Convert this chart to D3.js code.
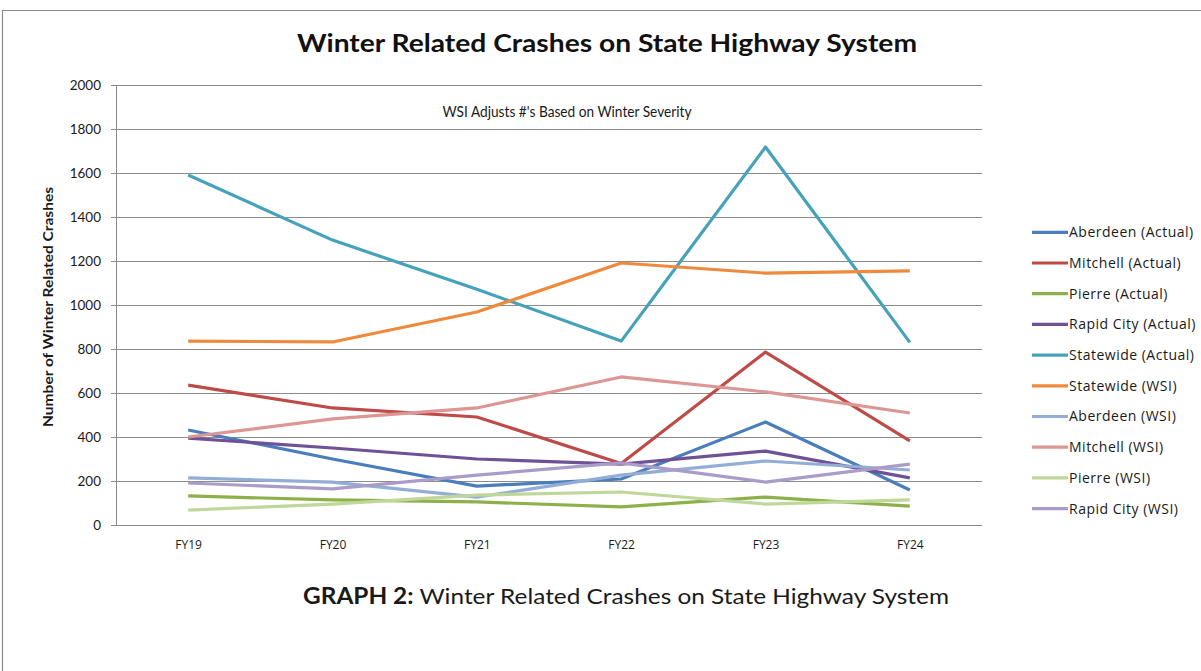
<!DOCTYPE html>
<html>
<head>
<meta charset="utf-8">
<script src="https://cdn.jsdelivr.net/npm/d3@7"></script>
<style>
  html, body { margin: 0; padding: 0; background: #fff; }
  svg { display: block; font-family: Lato, "Open Sans", sans-serif; }
</style>
</head>
<body>
<svg id="ctner"></svg>
<script>
// data
const years = ["FY19", "FY20", "FY21", "FY22", "FY23", "FY24"];
const yTicks = [0, 200, 400, 600, 800, 1000, 1200, 1400, 1600, 1800, 2000];

const aberdeenActual = [432, 300, 177, 209, 468, 159];
const mitchellActual = [636, 532, 491, 280, 786, 382];
const pierreActual = [132, 114, 105, 82, 127, 86];
const rapidCityActual = [395, 350, 300, 277, 336, 214];
const statewideActual = [1591, 1295, 1072, 836, 1718, 830];
const statewideWSI = [836, 832, 968, 1191, 1145, 1155];
const aberdeenWSI = [214, 195, 127, 227, 291, 250];
const mitchellWSI = [400, 482, 532, 673, 605, 509];
const pierreWSI = [68, 95, 136, 150, 95, 114];
const rapidCityWSI = [191, 164, 227, 282, 195, 277];

const seriesNames = [
  "Aberdeen (Actual)", "Mitchell (Actual)", "Pierre (Actual)", "Rapid City (Actual)",
  "Statewide (Actual)", "Statewide (WSI)", "Aberdeen (WSI)", "Mitchell (WSI)",
  "Pierre (WSI)", "Rapid City (WSI)"
];
const seriesValues = [
  aberdeenActual, mitchellActual, pierreActual, rapidCityActual,
  statewideActual, statewideWSI, aberdeenWSI, mitchellWSI, pierreWSI, rapidCityWSI
];
const seriesColors = [
  "#4a7ebb", "#be4b48", "#8db04a", "#6f5196", "#46a2bb",
  "#ef8a3c", "#93aed6", "#dc9794", "#c0d79c", "#aa9cc8"
];

main();

function main() {
  const width = 1201;
  const height = 671;
  const svg = d3.select("#ctner").attr("width", width).attr("height", height);

  /* frame around the figure */
  svg.append("path")
    .attr("d", `M2.5,${height} V10.5 H${width}`)
    .attr("fill", "none")
    .attr("stroke", "#8a8a8a")
    .attr("stroke-width", 1.2);

  const plot = { left: 116, right: 982, top: 85, bottom: 525 };

  /* scales */
  const x = d3.scalePoint().domain(years).range([plot.left, plot.right]).padding(0.5);
  const y = d3.scaleLinear().domain([0, 2000]).range([plot.bottom, plot.top]);
  const color = d3.scaleOrdinal().domain(seriesNames).range(seriesColors);

  /* gridlines + y axis */
  const yGroup = svg.append("g").attr("transform", `translate(${plot.left},0)`);
  yGroup.call(d3.axisLeft(y).tickValues(yTicks).tickFormat(d3.format("d")).tickSize(5).tickPadding(10))
    .call((g) => g.select(".domain").attr("stroke", "#8a8a8a"))
    .call((g) => g.selectAll(".tick line").attr("stroke", "#8a8a8a"))
    .call((g) => g.selectAll(".tick text")
      .attr("font-family", "Lato, 'Open Sans', sans-serif")
      .attr("font-size", 13.5)
      .attr("fill", "#1a1a1a"))
    .call((g) => g.selectAll(".tick line")
      .clone()
      .attr("x1", 0)
      .attr("x2", plot.right - plot.left)
      .attr("stroke", "#8c8c8c")
      .attr("stroke-width", 1));

  /* x axis labels */
  const xGroup = svg.append("g").attr("transform", `translate(0,${plot.bottom})`);
  xGroup.call(d3.axisBottom(x).tickSize(0).tickPadding(15))
    .call((g) => g.select(".domain").remove())
    .call((g) => g.selectAll(".tick text")
      .attr("font-family", "'Open Sans', sans-serif")
      .attr("font-size", 12)
      .attr("fill", "#1a1a1a"));

  /* lines */
  const line = d3.line()
    .x((d, i) => x(years[i]))
    .y((d) => y(d));
  svg.append("g")
    .selectAll("path")
    .data(seriesNames.map((name, i) => ({ name, values: seriesValues[i] })))
    .join("path")
    .attr("fill", "none")
    .attr("stroke", (d) => color(d.name))
    .attr("stroke-width", 3.2)
    .attr("stroke-linejoin", "round")
    .attr("d", (d) => line(d.values));

  /* titles */
  svg.append("text")
    .attr("x", 607).attr("y", 52)
    .attr("text-anchor", "middle")
    .attr("font-family", "Lato, sans-serif")
    .attr("font-weight", "bold")
    .attr("font-size", 24)
    .attr("fill", "#111")
    .attr("textLength", 620)
    .attr("lengthAdjust", "spacingAndGlyphs")
    .text("Winter Related Crashes on State Highway System");

  svg.append("text")
    .attr("x", 567).attr("y", 117)
    .attr("text-anchor", "middle")
    .attr("font-family", "Lato, sans-serif")
    .attr("font-size", 14.5)
    .attr("fill", "#1a1a1a")
    .attr("textLength", 249)
    .attr("lengthAdjust", "spacingAndGlyphs")
    .text("WSI Adjusts #'s Based on Winter Severity");

  svg.append("text")
    .attr("transform", `translate(53,${(plot.top + plot.bottom) / 2 + 2}) rotate(-90)`)
    .attr("text-anchor", "middle")
    .attr("font-family", "Lato, sans-serif")
    .attr("font-weight", "bold")
    .attr("font-size", 12.5)
    .attr("fill", "#1a1a1a")
    .attr("textLength", 240)
    .attr("lengthAdjust", "spacingAndGlyphs")
    .text("Number of Winter Related Crashes");

  /* legend */
  const legend = svg.append("g")
    .selectAll("g")
    .data(seriesNames)
    .join("g")
    .attr("transform", (d, i) => `translate(1032,${232.3 + i * 30.7})`);
  legend.append("line")
    .attr("x1", 0).attr("x2", 36)
    .attr("stroke", (d) => color(d))
    .attr("stroke-width", 3.2);
  legend.append("text")
    .attr("x", 37).attr("dy", "0.35em")
    .attr("font-family", "'Open Sans', sans-serif")
    .attr("font-size", 14)
    .attr("letter-spacing", 0.5)
    .attr("fill", "#1a1a1a")
    .text((d) => d);

  /* caption under the chart */
  const caption = svg.append("text")
    .attr("x", 303).attr("y", 604)
    .attr("font-family", "Lato, sans-serif")
    .attr("font-size", 22)
    .attr("fill", "#1a1a1a")
    .attr("textLength", 646)
    .attr("lengthAdjust", "spacingAndGlyphs");
  caption.append("tspan").attr("font-weight", "bold").text("GRAPH 2:");
  caption.append("tspan").text(" Winter Related Crashes on State Highway System");
}
</script>
</body>
</html>
